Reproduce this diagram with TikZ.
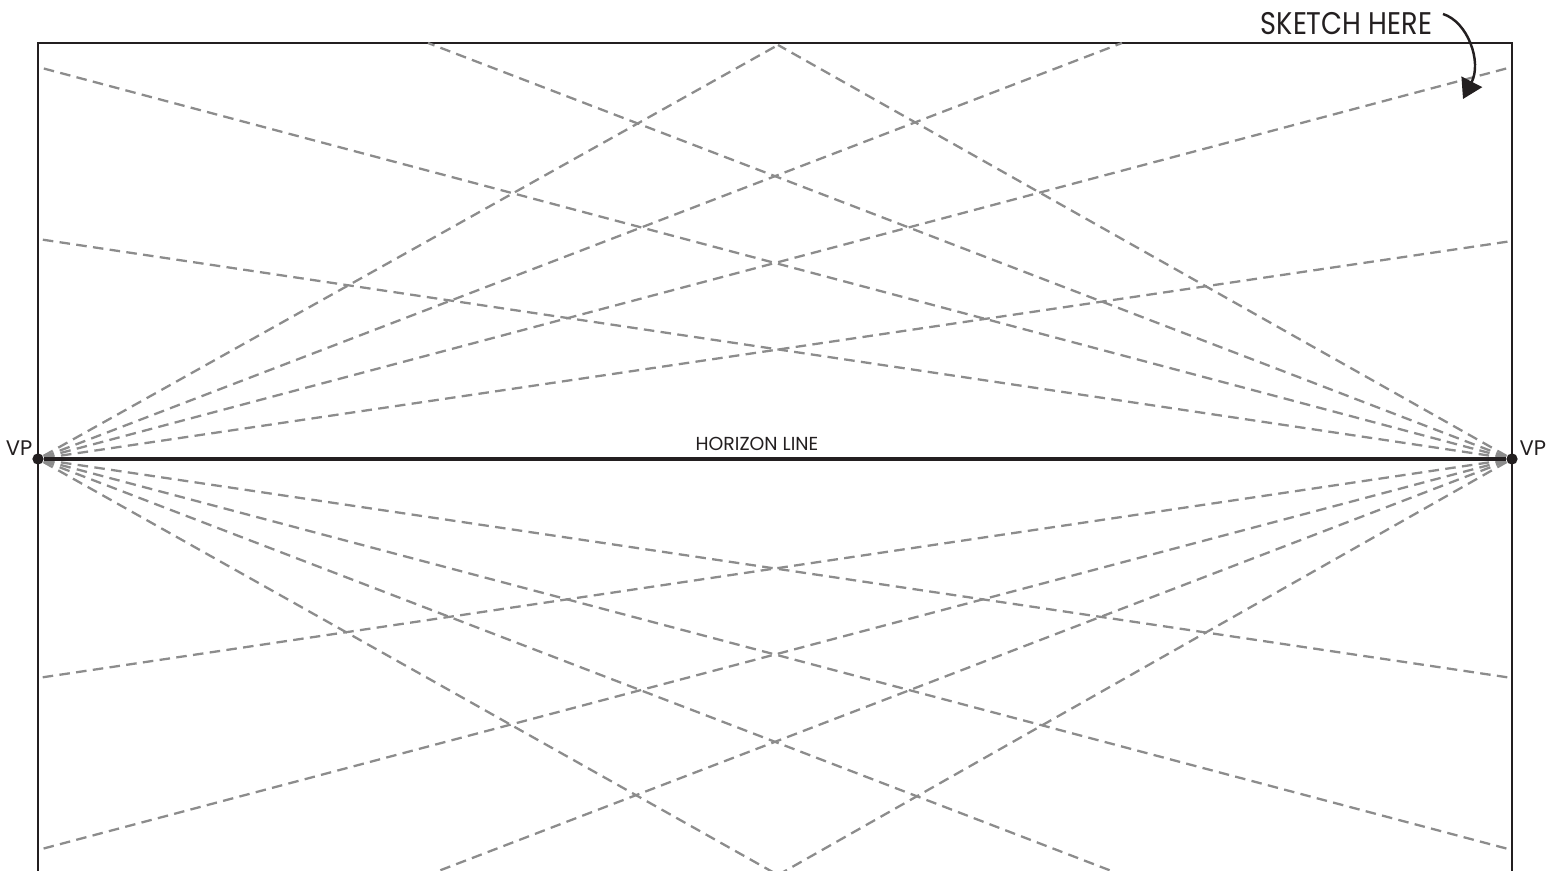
\documentclass[tikz,border=0pt]{standalone}
\usepackage{fontspec}
\setmainfont{Poppins}
\usepackage{graphicx}
\usepackage{tikz}
\usetikzlibrary{arrows.meta}
\definecolor{ink}{HTML}{231F20}
\definecolor{guidegray}{HTML}{8C8C8C}
\tikzset{sheet/.style={draw=ink,line width=0.8pt}}
\tikzset{horizon/.style={draw=ink,line width=1.2pt}}
\tikzset{guideline/.style={draw=guidegray,line width=0.65pt,dash pattern=on 3pt off 1.8pt}}
\tikzset{vp/.style={circle,fill=ink,inner sep=0pt,minimum size=3.2pt}}
\tikzset{tag/.style={text=ink,inner sep=0pt}}

\begin{document}
\begin{tikzpicture}[x=0.01cm,y=-0.01cm,>={Triangle[length=5.5pt,width=6.5pt]}]
    \useasboundingbox (0,0) rectangle (1557,871);
    \clip (0,0) rectangle (1557,871);
    \draw[sheet] (38,43) rectangle (1512,890);
    \node[vp] (vpl) at (38,459) {};
    \node[vp] (vpr) at (1512,459) {};
    % ends of the guides from the left VP
    \coordinate (ra) at (1512,67);
    \coordinate (rb) at (1512,241);
    \coordinate (rc) at (1122,43);
    \coordinate (top) at (778,45);
    \coordinate (rd) at (1512,678);
    \coordinate (re) at (1512,850);
    \coordinate (rf) at (1122,875);
    \coordinate (bottom) at (778,875);
    % ends of the guides from the right VP
    \coordinate (la) at (38,67);
    \coordinate (lb) at (38,239);
    \coordinate (lc) at (428,43);
    \coordinate (ld) at (38,678);
    \coordinate (le) at (38,850);
    \coordinate (lf) at (428,875);
    \foreach \e in {ra,rb,rc,top,rd,re,rf,bottom}
        \draw[guideline] (vpl) -- (\e);
    \foreach \e in {la,lb,lc,top,ld,le,lf,bottom}
        \draw[guideline] (vpr) -- (\e);
    \draw[horizon] (vpl) -- (vpr);
    \node[tag,anchor=base east,font=\fontsize{6}{7}\selectfont] (vpltext) at (33,456) {VP};
    \node[tag,anchor=base west,font=\fontsize{6}{7}\selectfont] (vprtext) at (1519,456) {VP};
    \node[tag,anchor=base,font=\fontsize{5.35}{7}\selectfont] (hztext) at (757,451) {HORIZON LINE};
    \node[tag,anchor=base west,font=\fontsize{8.9}{10}\selectfont] (sketch) at (1260,35) {\scalebox{0.87}[1]{SKETCH HERE}};
    \coordinate (arrowstart) at (1443,14);
    \coordinate (arrowtip) at (1463,99);
    \draw[->,draw=ink,fill=none,line width=0.7pt] (arrowstart) .. controls (1468,22) and (1482,62) .. (arrowtip);
\end{tikzpicture}
\end{document}
